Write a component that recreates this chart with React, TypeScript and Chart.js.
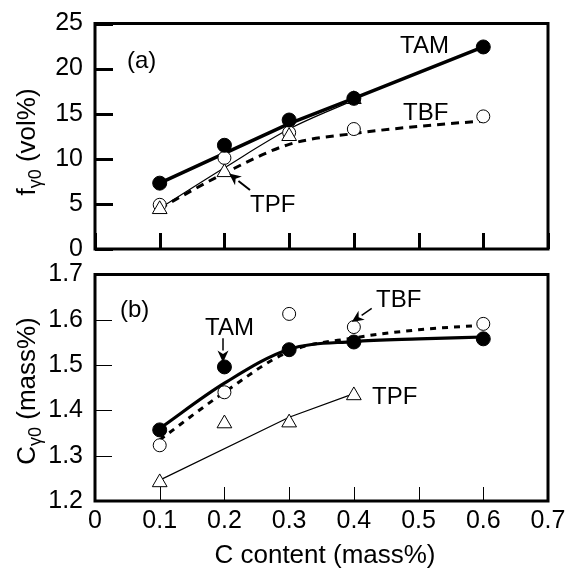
import React, { useEffect, useRef } from 'react';
import { Chart, registerables } from 'chart.js';

Chart.register(...registerables);

// ---------- data ----------
const xTickVals = [0, 0.1, 0.2, 0.3, 0.4, 0.5, 0.6, 0.7];
const fTickVals = [0, 5, 10, 15, 20, 25];
const cTickVals = [1.2, 1.3, 1.4, 1.5, 1.6, 1.7];

const cContent = [0.1, 0.2, 0.3, 0.4, 0.6];
const tpfContent = [0.1, 0.2, 0.3, 0.4];

// panel (a) f_gamma0 (vol%)
const fTAM = [7.3, 11.5, 14.3, 16.7, 22.4];
const fTBF = [4.9, 10.1, 12.9, 13.3, 14.7];
const fTPF = [4.4, 8.5, 12.5, 16.6];

const fitX = [0.1, 0.2, 0.3, 0.4, 0.5, 0.6];
const fTAMfit = [7.3, 10.6, 13.9, 16.7, 19.55, 22.4];
const fTBFfit = [4.5, 8.4, 11.6, 12.8, 13.6, 14.2];
const fTPFfitX = [0.1, 0.2, 0.3, 0.4];
const fTPFfit = [4.5, 9.0, 13.3, 16.5];

// panel (b) C_gamma0 (mass%)
const cTAM = [1.357, 1.496, 1.534, 1.551, 1.558];
const cTBF = [1.323, 1.44, 1.613, 1.584, 1.591];
const cTPF = [1.241, 1.371, 1.373, 1.433];

const cTAMfit = [1.36, 1.46, 1.535, 1.552, 1.558, 1.562];
const cTBFfit = [1.335, 1.44, 1.53, 1.56, 1.578, 1.588];
const cTPFfitX = [0.1, 0.3, 0.4];
const cTPFfit = [1.246, 1.385, 1.437];

// annotations (data coordinates)
const labelsA = [
  { text: '(a)', x: 0.0495, y: 20.07 },
  { text: 'TAM', x: 0.4713, y: 21.73 },
  { text: 'TBF', x: 0.476, y: 14.3 },
  { text: 'TPF', x: 0.2395, y: 4.14 },
];
const arrowsA = [{ from: [0.2395, 6.54], to: [0.2071, 8.37] }];

const labelsB = [
  { text: '(b)', x: 0.0386, y: 1.6053 },
  { text: 'TAM', x: 0.17, y: 1.5656 },
  { text: 'TBF', x: 0.4342, y: 1.628 },
  { text: 'TPF', x: 0.428, y: 1.415 },
];
const arrowsB = [
  { from: [0.1978, 1.559], to: [0.1978, 1.506] },
  { from: [0.4276, 1.625], to: [0.3967, 1.595] },
];

const FAMILY = '"Liberation Sans", Arial, Helvetica, sans-serif';

const zip = (xs: number[], ys: number[]) => xs.map((x, i) => ({ x, y: ys[i] }));

const decorPlugin = {
  id: 'decor',
  afterDraw(chart: any, _args: any, opts: any) {
    const { ctx, chartArea: a, scales } = chart;
    const xs = scales.x;
    const ys = scales.y;
    ctx.save();
    ctx.strokeStyle = '#000';
    ctx.fillStyle = '#000';
    // inward ticks
    ctx.lineWidth = opts.tickWidth;
    ctx.beginPath();
    opts.xTicks.forEach((v: number) => {
      const px = Math.round(xs.getPixelForValue(v)) + (opts.tickWidth % 2 ? 0.5 : 0);
      ctx.moveTo(px, a.bottom);
      ctx.lineTo(px, a.bottom - opts.xTickLen);
    });
    opts.yTicks.forEach((v: number) => {
      const py = Math.round(ys.getPixelForValue(v)) + (opts.tickWidth % 2 ? 0.5 : 0);
      ctx.moveTo(a.left, py);
      ctx.lineTo(a.left + opts.yTickLen, py);
    });
    ctx.stroke();
    // frame
    ctx.lineWidth = opts.frameWidth;
    ctx.strokeRect(a.left, a.top, a.right - a.left, a.bottom - a.top);
    // text labels
    ctx.font = `${opts.labelSize}px ${FAMILY}`;
    ctx.textAlign = 'left';
    ctx.textBaseline = 'alphabetic';
    opts.labels.forEach((l: any) => {
      ctx.fillText(l.text, xs.getPixelForValue(l.x), ys.getPixelForValue(l.y));
    });
    // arrows
    ctx.lineWidth = opts.arrowWidth;
    opts.arrows.forEach((ar: any) => {
      const x0 = xs.getPixelForValue(ar.from[0]);
      const y0 = ys.getPixelForValue(ar.from[1]);
      const x1 = xs.getPixelForValue(ar.to[0]);
      const y1 = ys.getPixelForValue(ar.to[1]);
      const ang = Math.atan2(y1 - y0, x1 - x0);
      const hl = 12;
      const hw = 5.5;
      const bx = x1 - Math.cos(ang) * hl;
      const by = y1 - Math.sin(ang) * hl;
      ctx.beginPath();
      ctx.moveTo(x0, y0);
      ctx.lineTo(bx, by);
      ctx.stroke();
      ctx.beginPath();
      ctx.moveTo(x1, y1);
      ctx.lineTo(bx + Math.sin(ang) * hw, by - Math.cos(ang) * hw);
      ctx.lineTo(x1 - Math.cos(ang) * hl * 0.7, y1 - Math.sin(ang) * hl * 0.7);
      ctx.lineTo(bx - Math.sin(ang) * hw, by + Math.cos(ang) * hw);
      ctx.closePath();
      ctx.fill();
    });
    // y title with subscript, rotated
    const t = opts.yTitle;
    const mainFont = `${t.size}px ${FAMILY}`;
    const subFont = `${t.subSize}px ${FAMILY}`;
    ctx.font = mainFont;
    const w1 = ctx.measureText(t.main).width;
    const w3 = ctx.measureText(t.rest).width;
    ctx.font = subFont;
    const w2 = ctx.measureText(t.sub).width;
    const total = w1 + w2 + w3;
    ctx.translate(t.x, t.y);
    ctx.rotate(-Math.PI / 2);
    ctx.textAlign = 'left';
    let cx = -total / 2;
    ctx.font = mainFont;
    ctx.fillText(t.main, cx, 0);
    cx += w1;
    ctx.font = subFont;
    ctx.fillText(t.sub, cx, t.subDrop);
    cx += w2;
    ctx.font = mainFont;
    ctx.fillText(t.rest, cx, 0);
    ctx.setTransform(1, 0, 0, 1, 0, 0);
    // x title
    if (opts.xTitle) {
      ctx.font = `${opts.xTitle.size}px ${FAMILY}`;
      ctx.textAlign = 'center';
      ctx.fillText(opts.xTitle.text, opts.xTitle.x, opts.xTitle.y);
    }
    ctx.restore();
  },
};

function markerSets(xs: number[], tam: number[], tbf: number[], tpfX: number[], tpf: number[]) {
  return [
    {
      data: zip(xs, tam),
      showLine: false,
      pointStyle: 'circle',
      pointRadius: 7,
      pointBackgroundColor: '#000',
      pointBorderColor: '#000',
      pointBorderWidth: 1,
    },
    {
      data: zip(tpfX, tpf),
      showLine: false,
      pointStyle: 'triangle',
      pointRadius: 8.5,
      pointBackgroundColor: '#fff',
      pointBorderColor: '#000',
      pointBorderWidth: 1,
    },
    {
      data: zip(xs, tbf),
      showLine: false,
      pointStyle: 'circle',
      pointRadius: 6.5,
      pointBackgroundColor: '#fff',
      pointBorderColor: '#000',
      pointBorderWidth: 1,
    },
  ];
}

function lineSet(data: any[], width: number, dash: number[], mono: boolean) {
  return {
    data,
    showLine: true,
    pointRadius: 0,
    borderColor: '#000',
    borderWidth: width,
    borderDash: dash,
    fill: false,
    cubicInterpolationMode: mono ? 'monotone' : 'default',
    tension: mono ? 0.4 : 0,
  };
}

function scaleOpts(yMin: number, yMax: number, yTicks: number[], showX: boolean) {
  return {
    x: {
      type: 'linear',
      min: 0,
      max: 0.7,
      display: showX,
      grid: { display: false, drawTicks: true, tickLength: 8 },
      border: { display: false },
      afterBuildTicks: (s: any) => {
        s.ticks = xTickVals.map((v) => ({ value: v }));
      },
      afterFit: (s: any) => {
        s.height = showX ? 70 : 0;
      },
      ticks: {
        color: '#000',
        padding: 0,
        maxRotation: 0,
        autoSkip: false,
        font: { family: FAMILY, size: 25, lineHeight: 1 },
        callback: (v: number) => String(v),
      },
    },
    y: {
      type: 'linear',
      min: yMin,
      max: yMax,
      grid: { display: false, drawTicks: true, tickLength: 12 },
      border: { display: false },
      afterBuildTicks: (s: any) => {
        s.ticks = yTicks.map((v) => ({ value: v }));
      },
      afterFit: (s: any) => {
        s.width = 95;
      },
      ticks: {
        color: '#000',
        padding: 0,
        autoSkip: false,
        font: { family: FAMILY, size: 25, lineHeight: 1 },
        callback: (v: number) => String(v),
      },
    },
  };
}

export default function App() {
  const topRef = useRef<HTMLCanvasElement | null>(null);
  const botRef = useRef<HTMLCanvasElement | null>(null);

  useEffect(() => {
    const top = new Chart(topRef.current as HTMLCanvasElement, {
      type: 'scatter',
      data: {
        datasets: [
          ...markerSets(cContent, fTAM, fTBF, tpfContent, fTPF),
          lineSet(zip(fitX, fTAMfit), 3.5, [], false),
          lineSet(zip(fTPFfitX, fTPFfit), 1.2, [], true),
          lineSet(zip(fitX, fTBFfit), 3, [8, 6], true),
        ] as any,
      },
      options: {
        responsive: false,
        animation: false,
        events: [],
        layout: { autoPadding: false, padding: { top: 23.5, bottom: 13, left: 0, right: 21 } },
        scales: scaleOpts(0, 25, fTickVals, false) as any,
        plugins: {
          legend: { display: false },
          tooltip: { enabled: false },
          decor: {
            tickWidth: 3,
            xTickLen: 16,
            yTickLen: 18,
            xTicks: xTickVals,
            yTicks: fTickVals,
            frameWidth: 3,
            labelSize: 24,
            labels: labelsA,
            arrows: arrowsA,
            arrowWidth: 2,
            yTitle: { main: 'f', sub: 'γ0', rest: ' (vol%)', size: 26, subSize: 18, subDrop: 6, x: 35, y: 142 },
          },
        } as any,
      },
      plugins: [decorPlugin],
    });

    const bot = new Chart(botRef.current as HTMLCanvasElement, {
      type: 'scatter',
      data: {
        datasets: [
          ...markerSets(cContent, cTAM, cTBF, tpfContent, cTPF),
          lineSet(zip(fitX, cTAMfit), 3.2, [], true),
          lineSet(zip(cTPFfitX, cTPFfit), 1.2, [], false),
          lineSet(zip(fitX, cTBFfit), 3, [6, 6], true),
        ] as any,
      },
      options: {
        responsive: false,
        animation: false,
        events: [],
        layout: { autoPadding: false, padding: { top: 12, bottom: 0, left: 0, right: 21 } },
        scales: scaleOpts(1.2, 1.7, cTickVals, true) as any,
        plugins: {
          legend: { display: false },
          tooltip: { enabled: false },
          decor: {
            tickWidth: 1,
            xTickLen: 14,
            yTickLen: 17,
            xTicks: xTickVals,
            yTicks: cTickVals,
            frameWidth: 3,
            labelSize: 24,
            labels: labelsB,
            arrows: arrowsB,
            arrowWidth: 1.5,
            yTitle: { main: 'C', sub: 'γ0', rest: ' (mass%)', size: 26, subSize: 18, subDrop: 6, x: 35, y: 129 },
            xTitle: { text: 'C content (mass%)', size: 26, x: 325, y: 301 },
          },
        } as any,
      },
      plugins: [decorPlugin],
    });

    return () => {
      top.destroy();
      bot.destroy();
    };
  }, []);

  return (
    <div style={{ position: 'fixed', left: 0, top: 0, width: 569, height: 571, background: '#fff' }}>
      <canvas ref={topRef} width={569} height={262} style={{ position: 'absolute', left: 0, top: 0 }} />
      <canvas ref={botRef} width={569} height={309} style={{ position: 'absolute', left: 0, top: 262 }} />
    </div>
  );
}
